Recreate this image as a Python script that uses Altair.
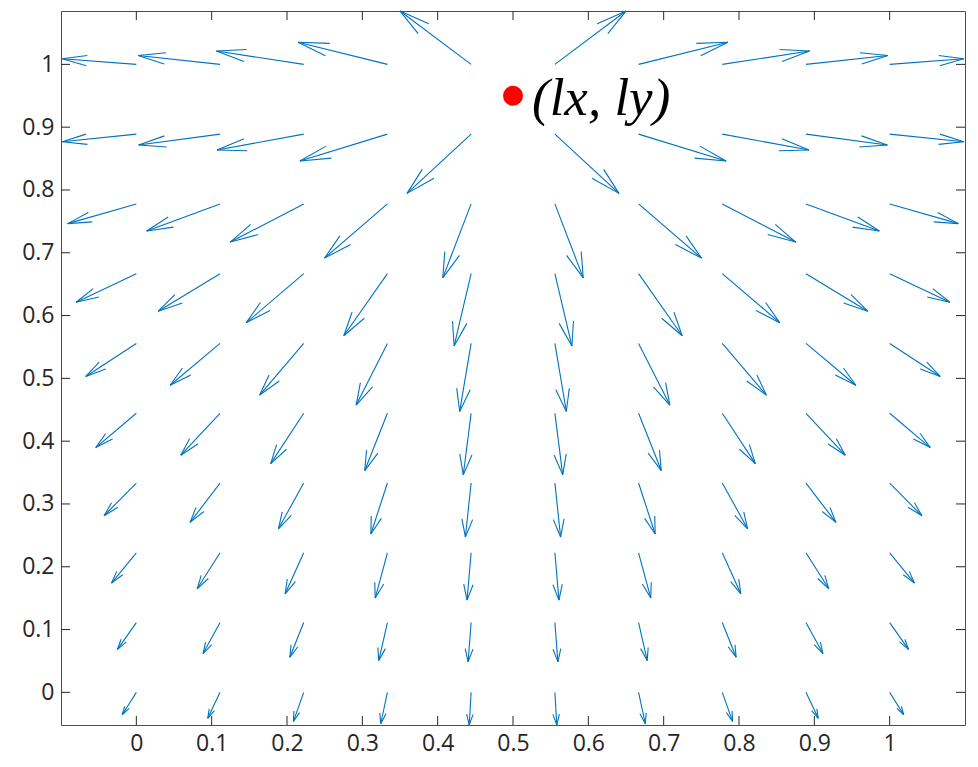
import altair as alt
import pandas as pd

# grid of arrow tails (linspace(0,1,10))
x_grid = [0.0, 0.1111, 0.2222, 0.3333, 0.4444, 0.5556, 0.6667, 0.7778, 0.8889, 1.0]
y_grid = [0.0, 0.1111, 0.2222, 0.3333, 0.4444, 0.5556, 0.6667, 0.7778, 0.8889, 1.0]

# displayed arrow components, one row per y_grid value (bottom to top)
U = [
    [-0.0187, -0.0163, -0.0137, -0.0089, -0.0025, 0.0025, 0.0089, 0.0137, 0.0163, 0.0187],
    [-0.0250, -0.0225, -0.0184, -0.0115, -0.0040, 0.0040, 0.0115, 0.0184, 0.0225, 0.0250],
    [-0.0329, -0.0303, -0.0246, -0.0162, -0.0054, 0.0054, 0.0162, 0.0246, 0.0303, 0.0329],
    [-0.0428, -0.0398, -0.0336, -0.0220, -0.0076, 0.0076, 0.0220, 0.0336, 0.0398, 0.0428],
    [-0.0539, -0.0521, -0.0439, -0.0301, -0.0104, 0.0104, 0.0301, 0.0439, 0.0521, 0.0539],
    [-0.0671, -0.0662, -0.0585, -0.0415, -0.0152, 0.0152, 0.0415, 0.0585, 0.0662, 0.0671],
    [-0.0799, -0.0820, -0.0762, -0.0579, -0.0226, 0.0226, 0.0579, 0.0762, 0.0820, 0.0799],
    [-0.0912, -0.0974, -0.0975, -0.0835, -0.0376, 0.0376, 0.0835, 0.0975, 0.0974, 0.0912],
    [-0.0983, -0.1080, -0.1151, -0.1162, -0.0851, 0.0851, 0.1162, 0.1151, 0.1080, 0.0983],
    [-0.0983, -0.1089, -0.1159, -0.1187, -0.0944, 0.0944, 0.1187, 0.1159, 0.1089, 0.0983],
]
V = [
    [-0.0357, -0.0414, -0.0462, -0.0500, -0.0521, -0.0521, -0.0500, -0.0462, -0.0414, -0.0357],
    [-0.0427, -0.0494, -0.0551, -0.0605, -0.0626, -0.0626, -0.0605, -0.0551, -0.0494, -0.0427],
    [-0.0482, -0.0573, -0.0653, -0.0721, -0.0753, -0.0753, -0.0721, -0.0653, -0.0573, -0.0482],
    [-0.0521, -0.0627, -0.0728, -0.0812, -0.0860, -0.0860, -0.0812, -0.0728, -0.0627, -0.0521],
    [-0.0546, -0.0668, -0.0801, -0.0912, -0.0981, -0.0981, -0.0912, -0.0801, -0.0668, -0.0546],
    [-0.0525, -0.0666, -0.0822, -0.0981, -0.1083, -0.1083, -0.0981, -0.0822, -0.0666, -0.0525],
    [-0.0455, -0.0598, -0.0780, -0.0989, -0.1153, -0.1153, -0.0989, -0.0780, -0.0598, -0.0455],
    [-0.0314, -0.0431, -0.0608, -0.0863, -0.1177, -0.1177, -0.0863, -0.0608, -0.0431, -0.0314],
    [-0.0121, -0.0174, -0.0253, -0.0428, -0.0943, -0.0943, -0.0428, -0.0253, -0.0174, -0.0121],
    [0.0090, 0.0141, 0.0212, 0.0353, 0.0849, 0.0849, 0.0353, 0.0212, 0.0141, 0.0090],
]

light_x = [0.5]
light_y = [0.95]
light_label = ["(lx, ly)"]

x_ticks = [0.0, 0.1, 0.2, 0.3, 0.4, 0.5, 0.6, 0.7, 0.8, 0.9, 1.0]
y_ticks = [0.0, 0.1, 0.2, 0.3, 0.4, 0.5, 0.6, 0.7, 0.8, 0.9, 1.0]

x_domain = [-0.1, 1.1]
y_domain = [-0.052, 1.085]

W, H = 904, 714
ARROW = "#0072BD"
AX = "#262626"
ALPHA, BETA = 0.33, 0.25  # arrow-head shape (MATLAB quiver style)

segs = []
for j, yv in enumerate(y_grid):
    for i, xv in enumerate(x_grid):
        u, v = U[j][i], V[j][i]
        hx, hy = xv + u, yv + v
        segs.append(dict(x=xv, y=yv, x2=hx, y2=hy))
        segs.append(dict(x=hx, y=hy, x2=hx - ALPHA * (u + BETA * v), y2=hy - ALPHA * (v - BETA * u)))
        segs.append(dict(x=hx, y=hy, x2=hx - ALPHA * (u - BETA * v), y2=hy - ALPHA * (v + BETA * u)))
seg_df = pd.DataFrame(segs)

xs = alt.Scale(domain=x_domain, nice=False, zero=False)
ys = alt.Scale(domain=y_domain, nice=False, zero=False)
LBL = "datum.value == 0 ? '0' : datum.value == 1 ? '1' : format(datum.value, '.1f')"
x_axis = alt.Axis(values=x_ticks, labelExpr=LBL, title=None)
y_axis = alt.Axis(values=y_ticks, labelExpr=LBL, title=None)


def X(f):
    return alt.X(f, scale=xs, axis=x_axis, title=None)


def Y(f):
    return alt.Y(f, scale=ys, axis=y_axis, title=None)


arrows = alt.Chart(seg_df).mark_rule(color=ARROW, strokeWidth=1.1).encode(
    x=X("x:Q"), y=Y("y:Q"), x2="x2:Q", y2="y2:Q",
)

xt_df = pd.DataFrame({"t": x_ticks})
yt_df = pd.DataFrame({"t": y_ticks})
tick_len = 9
xt_bottom = alt.Chart(xt_df).mark_rule(color=AX, strokeWidth=1).encode(
    x=X("t:Q"), y=alt.value(H), y2=alt.value(H - tick_len))
xt_top = alt.Chart(xt_df).mark_rule(color=AX, strokeWidth=1).encode(
    x=X("t:Q"), y=alt.value(0), y2=alt.value(tick_len))
yt_left = alt.Chart(yt_df).mark_rule(color=AX, strokeWidth=1).encode(
    y=Y("t:Q"), x=alt.value(0), x2=alt.value(tick_len))
yt_right = alt.Chart(yt_df).mark_rule(color=AX, strokeWidth=1).encode(
    y=Y("t:Q"), x=alt.value(W), x2=alt.value(W - tick_len))

light_df = pd.DataFrame({"lx": light_x, "ly": light_y, "label": light_label})
dot = alt.Chart(light_df).mark_circle(color="#FF0000", opacity=1, size=400).encode(
    x=X("lx:Q"), y=Y("ly:Q"))
label = alt.Chart(light_df).mark_text(
    font="Liberation Serif", fontStyle="italic", fontSize=53, color="#000000",
    align="left", baseline="alphabetic", dx=19, dy=19,
).encode(x=X("lx:Q"), y=Y("ly:Q"), text="label:N")

chart = alt.layer(arrows, xt_bottom, xt_top, yt_left, yt_right, dot, label).properties(
    width=W, height=H,
    autosize=alt.AutoSizeParams(type="none"),
    padding={"left": 61, "top": 11, "right": 13, "bottom": 42},
    background="white",
).configure_view(
    stroke="#4d4d4d", strokeWidth=1
).configure_axis(
    grid=False, domain=False, ticks=False, tickSize=0,
    labelFont="Open Sans", labelFontSize=23, labelColor=AX,
    labelPadding=7,
)

chart.save("out.html", embed_options={"renderer": "svg", "actions": False})
